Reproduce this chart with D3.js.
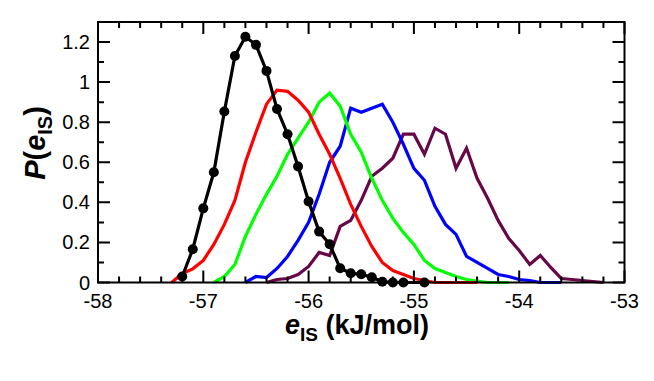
<!DOCTYPE html>
<html>
<head>
<meta charset="utf-8">
<script src="https://cdn.jsdelivr.net/npm/d3@7"></script>
<style>
  body { margin: 0; background: #fff; }
  svg { display: block; font-family: "Liberation Sans", Arial, sans-serif; }
</style>
</head>
<body>
<svg width="654" height="381"></svg>
<script>
// e_IS values (kJ/mol) and probability densities
const blackX = [-57.2, -57.1, -57.0, -56.9, -56.8, -56.7, -56.6, -56.5, -56.4, -56.3, -56.2, -56.1, -56.0, -55.9, -55.8, -55.7, -55.6, -55.5, -55.4, -55.3, -55.2, -55.1, -54.9];
const blackY = [0.03, 0.166, 0.37, 0.55, 0.853, 1.13, 1.226, 1.186, 1.056, 0.866, 0.74, 0.579, 0.404, 0.254, 0.191, 0.071, 0.046, 0.041, 0.026, 0.004, 0, 0, 0];

const redX = [-57.3, -57.2, -57.1, -57.0, -56.9, -56.8, -56.7, -56.6, -56.5, -56.4, -56.3, -56.2, -56.1, -56.0, -55.9, -55.8, -55.7, -55.6, -55.5, -55.4, -55.3, -55.2, -55.1, -55.0, -54.9, -54.8, -54.7, -54.6, -54.5, -54.4];
const redY = [0, 0.045, 0.068, 0.11, 0.19, 0.29, 0.41, 0.6, 0.75, 0.89, 0.96, 0.954, 0.91, 0.85, 0.74, 0.64, 0.52, 0.39, 0.28, 0.18, 0.1, 0.06, 0.04, 0.02, 0.01, 0, 0, 0, 0, 0];

const greenX = [-56.9, -56.8, -56.7, -56.6, -56.5, -56.4, -56.3, -56.2, -56.1, -56.0, -55.9, -55.8, -55.7, -55.6, -55.5, -55.4, -55.3, -55.2, -55.1, -55.0, -54.9, -54.8, -54.7, -54.6, -54.5, -54.4, -54.3, -54.2, -54.1];
const greenY = [0, 0.03, 0.09, 0.23, 0.34, 0.44, 0.53, 0.64, 0.72, 0.8, 0.9, 0.945, 0.88, 0.74, 0.65, 0.52, 0.41, 0.32, 0.25, 0.19, 0.11, 0.07, 0.05, 0.03, 0.015, 0.007, 0, 0, 0];

const blueX = [-56.6, -56.5, -56.4, -56.3, -56.2, -56.1, -56.0, -55.9, -55.8, -55.7, -55.6, -55.5, -55.4, -55.3, -55.2, -55.1, -55.0, -54.9, -54.8, -54.7, -54.6, -54.5, -54.4, -54.3, -54.2, -54.1, -54.0, -53.9, -53.8, -53.7, -53.6];
const blueY = [0, 0.03, 0.025, 0.07, 0.13, 0.21, 0.3, 0.44, 0.6, 0.68, 0.87, 0.85, 0.87, 0.89, 0.8, 0.69, 0.57, 0.51, 0.38, 0.29, 0.24, 0.13, 0.1, 0.07, 0.04, 0.03, 0.015, 0.01, 0, 0, 0];

const maroonX = [-56.4, -56.3, -56.2, -56.1, -56.0, -55.9, -55.8, -55.7, -55.6, -55.5, -55.4, -55.3, -55.2, -55.1, -55.0, -54.9, -54.8, -54.7, -54.6, -54.5, -54.4, -54.3, -54.2, -54.1, -54.0, -53.9, -53.8, -53.7, -53.6, -53.5, -53.4, -53.3, -53.2];
const maroonY = [0, 0.015, 0.02, 0.04, 0.08, 0.15, 0.135, 0.28, 0.31, 0.41, 0.53, 0.57, 0.62, 0.74, 0.74, 0.64, 0.77, 0.74, 0.57, 0.67, 0.52, 0.42, 0.31, 0.22, 0.16, 0.09, 0.135, 0.075, 0.02, 0.015, 0.01, 0.005, 0];

const xMajor = [-58, -57, -56, -55, -54, -53];
const yMajor = [0, 0.2, 0.4, 0.6, 0.8, 1, 1.2];
const yLabels = ["0", "0.2", "0.4", "0.6", "0.8", "1", "1.2"];

const series = [
  { x: maroonX, y: maroonY, color: "#670748" },
  { x: blueX, y: blueY, color: "#0000ff" },
  { x: greenX, y: greenY, color: "#00ff00" },
  { x: redX, y: redY, color: "#ff0000" },
  { x: blackX, y: blackY, color: "#000000", markers: true }
];

const plotL = 98, plotR = 624.5, plotT = 22, plotB = 282.5;

const svg = d3.select("svg");
const x = d3.scaleLinear().domain([-58, -53]).range([plotL, plotR]);
const y = d3.scaleLinear().domain([0, 1.3]).range([plotB, plotT]);

const line = d3.line().x(d => x(d[0])).y(d => y(d[1]));

series.forEach(s => {
  const pts = s.x.map((v, i) => [v, s.y[i]]);
  svg.append("path")
    .attr("d", line(pts))
    .attr("fill", "none")
    .attr("stroke", s.color)
    .attr("stroke-width", 3.2)
    .attr("stroke-linejoin", "miter");
  if (s.markers) {
    svg.append("g").selectAll("circle")
      .data(pts)
      .enter().append("circle")
      .attr("cx", d => x(d[0]))
      .attr("cy", d => y(d[1]))
      .attr("r", 5)
      .attr("fill", "#000");
  }
});

// inward ticks on all four sides, drawn as one path (major every 1 / 0.2, minor between)
const xTicks = d3.range(0, 26).map(i => ({ v: -58 + i * 0.2, len: i % 5 === 0 ? 12 : 6 }));
const yTicks = d3.range(0, 14).map(i => ({ v: i * 0.1, len: i % 2 === 0 ? 12 : 6 }));

const tickPath = d3.path();
xTicks.forEach(t => {
  const px = x(t.v);
  tickPath.moveTo(px, plotB); tickPath.lineTo(px, plotB - t.len);
  tickPath.moveTo(px, plotT); tickPath.lineTo(px, plotT + t.len);
});
yTicks.forEach(t => {
  const py = y(t.v);
  tickPath.moveTo(plotL, py); tickPath.lineTo(plotL + t.len, py);
  tickPath.moveTo(plotR, py); tickPath.lineTo(plotR - t.len, py);
});
svg.append("path")
  .attr("d", tickPath.toString())
  .attr("fill", "none")
  .attr("stroke", "#000")
  .attr("stroke-width", 2);

// frame
svg.append("rect")
  .attr("x", plotL).attr("y", plotT)
  .attr("width", plotR - plotL).attr("height", plotB - plotT)
  .attr("fill", "none").attr("stroke", "#000").attr("stroke-width", 2);

// tick labels
svg.append("g").selectAll("text")
  .data(xMajor)
  .enter().append("text")
  .attr("x", d => x(d))
  .attr("y", 308)
  .attr("text-anchor", "middle")
  .attr("font-size", 20)
  .text(d => d);

svg.append("g").selectAll("text")
  .data(yMajor)
  .enter().append("text")
  .attr("x", 90)
  .attr("y", d => y(d) + 7)
  .attr("text-anchor", "end")
  .attr("font-size", 20)
  .text((d, i) => yLabels[i]);

// axis titles
const xt = svg.append("text")
  .attr("x", 357).attr("y", 334)
  .attr("text-anchor", "middle")
  .attr("font-size", 27).attr("font-weight", "bold");
xt.append("tspan").attr("font-style", "italic").text("e");
xt.append("tspan").attr("dy", 7).attr("font-size", 19).text("IS");
xt.append("tspan").attr("dy", -7).text(" (kJ/mol)");

const yt = svg.append("text")
  .attr("transform", "translate(45,143) rotate(-90)")
  .attr("text-anchor", "middle")
  .attr("font-size", 29).attr("font-weight", "bold");
yt.append("tspan").attr("font-style", "italic").text("P");
yt.append("tspan").text("(");
yt.append("tspan").attr("font-style", "italic").text("e");
yt.append("tspan").attr("dy", 7).attr("font-size", 20).text("IS");
yt.append("tspan").attr("dy", -7).text(")");
</script>
</body>
</html>
